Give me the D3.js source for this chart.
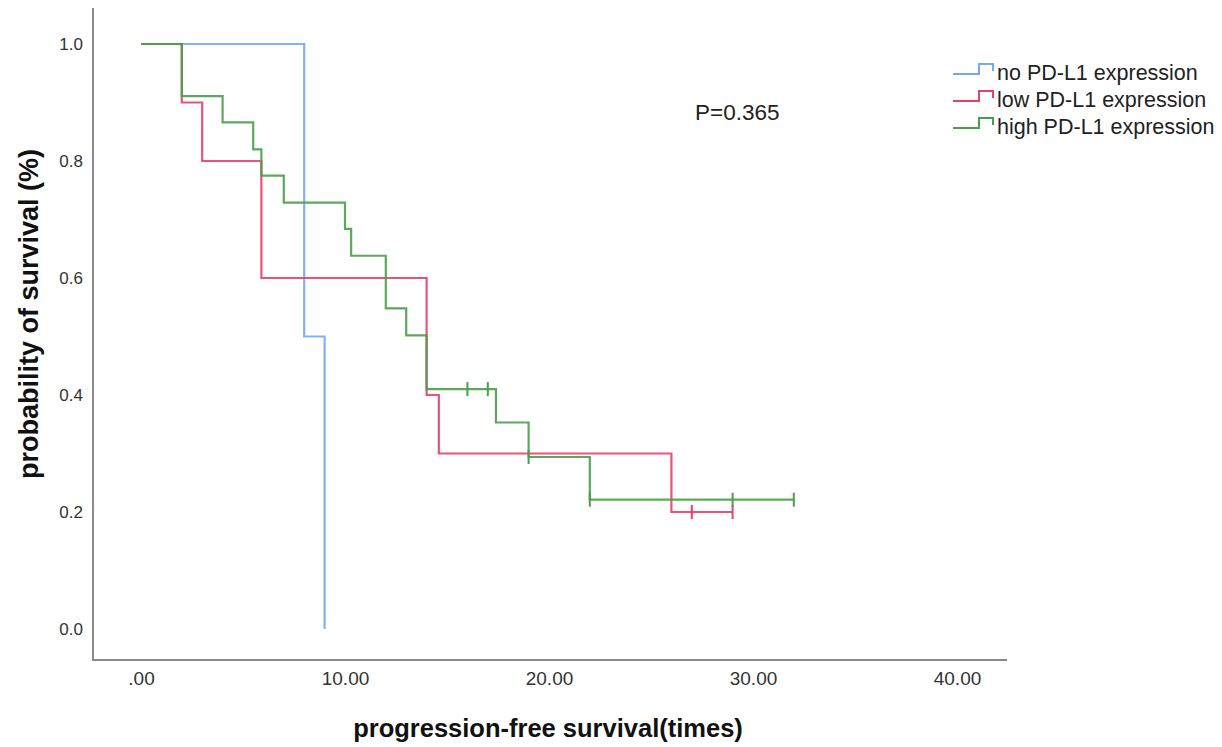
<!DOCTYPE html>
<html>
<head>
<meta charset="utf-8">
<script src="https://cdn.jsdelivr.net/npm/d3@7"></script>
<style>
  html, body { margin: 0; padding: 0; background: #fff; }
  svg { display: block; font-family: "Liberation Sans", Arial, sans-serif; }
</style>
</head>
<body>
<svg id="chart" width="1222" height="747"></svg>
<script>
// Kaplan-Meier steps: event times and survival after each event
const noTime = [8, 9];
const noSurv = [0.5, 0.0];
const noCensor = [];
const noEnd = 9;

const lowTime = [2, 3, 5.9, 14, 14.6, 26];
const lowSurv = [0.9, 0.8, 0.6, 0.4, 0.3, 0.2];
const lowCensor = [27, 29];
const lowEnd = 29;

const highTime = [2, 4, 5.5, 5.9, 7, 10, 10.3, 12, 13, 14, 17.4, 19, 22];
const highSurv = [0.911, 0.866, 0.82, 0.775, 0.729, 0.684, 0.638, 0.548, 0.502, 0.41, 0.353, 0.294, 0.221];
const highCensor = [16, 17, 19, 22, 29, 32];
const highEnd = 32;

const xTicks = [0, 10, 20, 30, 40];
const yTicks = [0, 0.2, 0.4, 0.6, 0.8, 1.0];
const groupNames = ['no PD-L1 expression', 'low PD-L1 expression', 'high PD-L1 expression'];
const groupColors = ['#74a9f2', '#e8406a', '#4a9e4a'];

const svg = d3.select('#chart');

// Scales (plot frame: left axis at x=93, bottom axis at y=660)
const x = d3.scaleLinear().domain([0, 40]).range([141, 957]);
const y = d3.scaleLinear().domain([0, 1]).range([629, 44]);

// Axis frame lines
svg.append('line')
  .attr('x1', 93).attr('x2', 93).attr('y1', 8).attr('y2', 660)
  .attr('stroke', '#8a8a8a').attr('stroke-width', 2);
svg.append('line')
  .attr('x1', 92).attr('x2', 1007).attr('y1', 660).attr('y2', 660)
  .attr('stroke', '#8a8a8a').attr('stroke-width', 2);

// Tick labels
const yAxis = d3.axisLeft(y).tickValues(yTicks).tickSize(0).tickPadding(0)
  .tickFormat(d3.format('.1f'));
const yAxisGroup = svg.append('g').attr('transform', 'translate(83,0)').call(yAxis);
yAxisGroup.select('.domain').remove();
yAxisGroup.selectAll('text').attr('fill', '#333').style('font-size', '17px').attr('dy', '0.35em');

const xAxis = d3.axisBottom(x).tickValues(xTicks).tickSize(0).tickPadding(0)
  .tickFormat(d => d === 0 ? '.00' : d3.format('.2f')(d));
const xAxisGroup = svg.append('g').attr('transform', 'translate(0,671)').call(xAxis);
xAxisGroup.select('.domain').remove();
xAxisGroup.selectAll('text').attr('fill', '#333').style('font-size', '19px').attr('dy', '0.71em');

// Step path builder
function stepPoints(times, surv, end) {
  const pts = [[0, 1]];
  let s = 1;
  times.forEach((t, i) => {
    pts.push([t, s]);
    s = surv[i];
    pts.push([t, s]);
  });
  if (end > pts[pts.length - 1][0]) pts.push([end, s]);
  return pts;
}

function survivalAt(times, surv, t) {
  let s = 1;
  times.forEach((tt, i) => { if (tt <= t) s = surv[i]; });
  return s;
}

const line = d3.line().x(d => x(d[0])).y(d => y(d[1]));

const groups = [
  { time: noTime, surv: noSurv, censor: noCensor, end: noEnd },
  { time: lowTime, surv: lowSurv, censor: lowCensor, end: lowEnd },
  { time: highTime, surv: highSurv, censor: highCensor, end: highEnd }
];

groups.forEach((g, i) => {
  svg.append('path')
    .datum(stepPoints(g.time, g.surv, g.end))
    .attr('d', line)
    .attr('fill', 'none')
    .attr('stroke', groupColors[i])
    .attr('stroke-width', 2.2)
    .attr('stroke-opacity', 0.9);

  svg.selectAll(null)
    .data(g.censor)
    .enter().append('line')
    .attr('x1', d => x(d)).attr('x2', d => x(d))
    .attr('y1', d => y(survivalAt(g.time, g.surv, d)) - 7)
    .attr('y2', d => y(survivalAt(g.time, g.surv, d)) + 7)
    .attr('stroke', groupColors[i])
    .attr('stroke-width', 2);
});

// P value
svg.append('text')
  .attr('x', 695).attr('y', 120)
  .attr('fill', '#222')
  .style('font-size', '22.5px')
  .text('P=0.365');

// Legend
groupNames.forEach((name, i) => {
  const yb = 74 + i * 27;
  svg.append('path')
    .attr('d', `M953,${yb} H979 V${yb - 10} H993 V${yb - 3}`)
    .attr('fill', 'none')
    .attr('stroke', groupColors[i])
    .attr('stroke-width', 2);
  svg.append('text')
    .attr('x', 997).attr('y', yb + 6)
    .attr('fill', '#222')
    .style('font-size', '21.5px')
    .text(name);
});

// Axis titles
svg.append('text')
  .attr('x', 548).attr('y', 737)
  .attr('text-anchor', 'middle')
  .attr('fill', '#111')
  .style('font-size', '25.5px')
  .style('font-weight', 'bold')
  .text('progression-free survival(times)');

svg.append('text')
  .attr('transform', 'translate(38,314) rotate(-90)')
  .attr('text-anchor', 'middle')
  .attr('fill', '#111')
  .style('font-size', '27px')
  .style('font-weight', 'bold')
  .text('probability of survival (%)');
</script>
</body>
</html>
